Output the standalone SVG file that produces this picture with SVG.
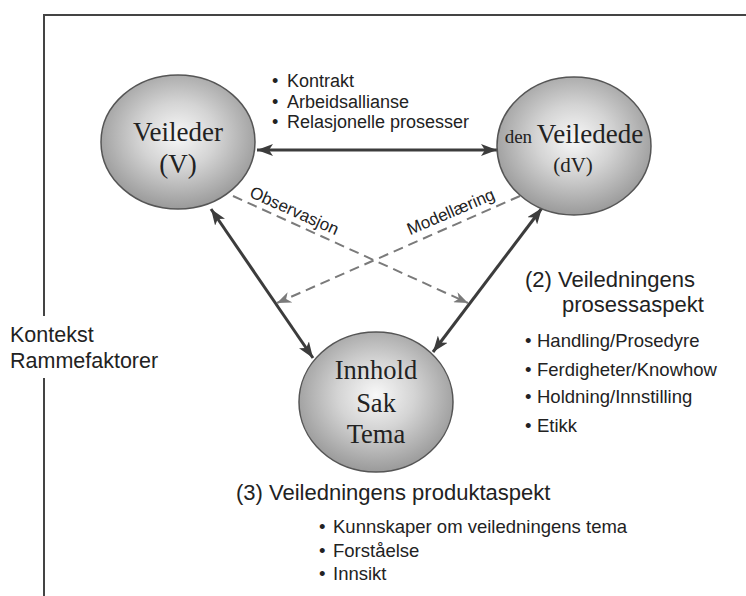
<svg xmlns="http://www.w3.org/2000/svg" width="746" height="596" viewBox="0 0 746 596">
<style>
.frame{stroke:#444;stroke-width:2;fill:none}
.node{stroke:#555;stroke-width:1.5;fill:url(#ball)}
.serif{font-family:"Liberation Serif","Times New Roman",serif;fill:#222;text-anchor:middle}
.sans{font-family:"Liberation Sans",Arial,sans-serif;fill:#222}
.solid{stroke:#3c3c3c;stroke-width:3;fill:none}
.dash{stroke:#7a7a7a;stroke-width:2;fill:none;stroke-dasharray:10 6}
</style>
<defs>
<radialGradient id="ball" cx="50%" cy="45%" r="55%">
<stop offset="0" stop-color="#f8f8f8"/>
<stop offset="0.45" stop-color="#d4d4d4"/>
<stop offset="1" stop-color="#9a9a9a"/>
</radialGradient>
<marker id="ah" viewBox="0 0 16 12" refX="16" refY="6" markerWidth="16" markerHeight="12" markerUnits="userSpaceOnUse" orient="auto-start-reverse">
<path d="M0,0 L16,6 L0,12 L4,6 z" fill="#3c3c3c"/>
</marker>
<marker id="ahd" viewBox="0 0 14 11" refX="14" refY="5.5" markerWidth="14" markerHeight="11" markerUnits="userSpaceOnUse" orient="auto">
<path d="M0,0 L14,5.5 L0,11 L4,5.5 z" fill="#7a7a7a"/>
</marker>
</defs>
<rect width="746" height="596" fill="#fff"/>
<g id="frame">
<polyline class="frame" points="44,316 44,15 746,15"/>
<line class="frame" x1="44" y1="378" x2="44" y2="596"/>
<text class="sans" x="10" y="342" font-size="21.5">Kontekst</text>
<text class="sans" x="10" y="368" font-size="21.5">Rammefaktorer</text>
</g>
<g id="connectors">
<line class="solid" x1="257" y1="150" x2="497" y2="150" marker-start="url(#ah)" marker-end="url(#ah)"/>
<line class="solid" x1="211" y1="209" x2="313" y2="358" marker-start="url(#ah)" marker-end="url(#ah)"/>
<line class="solid" x1="542" y1="208" x2="433" y2="352" marker-start="url(#ah)" marker-end="url(#ah)"/>
<line class="dash" x1="233" y1="196" x2="468" y2="303" marker-end="url(#ahd)"/>
<line class="dash" x1="520" y1="196" x2="277" y2="303" marker-end="url(#ahd)"/>
<text class="sans" font-size="17" text-anchor="middle" transform="translate(292,216) rotate(24)">Observasjon</text>
<text class="sans" font-size="17" text-anchor="middle" transform="translate(453,217) rotate(-23)">Modellæring</text>
</g>
<g id="veileder">
<ellipse class="node" cx="178" cy="142" rx="77" ry="67"/>
<text class="serif" x="178" y="141" font-size="27">Veileder</text>
<text class="serif" x="178" y="173" font-size="27">(V)</text>
</g>
<g id="veiledede">
<ellipse class="node" cx="574" cy="146" rx="77" ry="69"/>
<text class="serif" x="574" y="143" font-size="27"><tspan font-size="19">den </tspan>Veiledede</text>
<text class="serif" x="573" y="172" font-size="21">(dV)</text>
</g>
<g id="innhold">
<ellipse class="node" cx="376" cy="402" rx="77" ry="70"/>
<text class="serif" x="376" y="379" font-size="26.5">Innhold</text>
<text class="serif" x="376" y="412" font-size="26.5">Sak</text>
<text class="serif" x="376" y="443" font-size="26.5">Tema</text>
</g>
<g id="relasjon" class="sans" font-size="18">
<text x="272" y="87">•</text><text x="287" y="87">Kontrakt</text>
<text x="272" y="108">•</text><text x="287" y="108">Arbeidsallianse</text>
<text x="272" y="128">•</text><text x="287" y="128">Relasjonelle prosesser</text>
</g>
<g id="prosess" class="sans">
<text x="525" y="287" font-size="22">(2) Veiledningens</text>
<text x="562" y="312" font-size="22">prosessaspekt</text>
<g font-size="18.5">
<text x="525" y="347">•</text><text x="537" y="347">Handling/Prosedyre</text>
<text x="525" y="376">•</text><text x="537" y="376">Ferdigheter/Knowhow</text>
<text x="525" y="403">•</text><text x="537" y="403">Holdning/Innstilling</text>
<text x="525" y="432">•</text><text x="537" y="432">Etikk</text>
</g>
</g>
<g id="produkt" class="sans">
<text x="236" y="500" font-size="22">(3) Veiledningens produktaspekt</text>
<g font-size="18.5">
<text x="319" y="533">•</text><text x="333" y="533">Kunnskaper om veiledningens tema</text>
<text x="319" y="557">•</text><text x="333" y="557">Forståelse</text>
<text x="319" y="580">•</text><text x="333" y="580">Innsikt</text>
</g>
</g>
</svg>
